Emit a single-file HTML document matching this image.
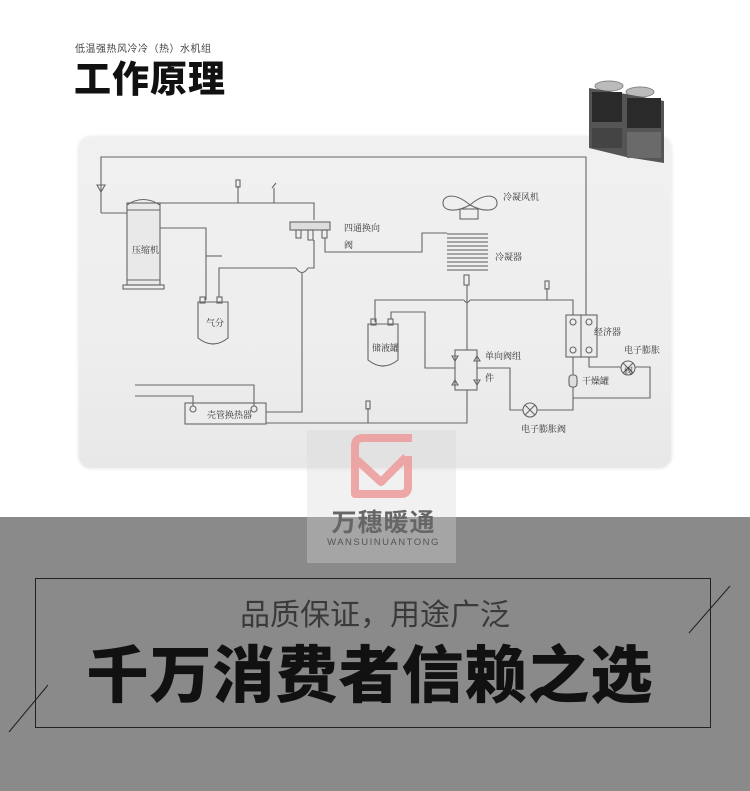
<!DOCTYPE html>
<html><head><meta charset="utf-8"><style>
html,body{margin:0;padding:0;}
body{width:750px;height:791px;position:relative;overflow:hidden;background:#fff;font-family:"Liberation Sans","Noto Sans CJK SC",sans-serif;}
.abs{position:absolute;}
</style></head><body>
<div class="abs" style="left:0;top:0;width:750px;height:517px;background:#fff"></div>
<div class="abs" style="left:0;top:517px;width:750px;height:274px;background:#8a8a8a"></div>
<div class="abs" style="left:75px;top:40px;font-size:10px;color:#444;letter-spacing:0.5px">低温强热风冷冷（热）水机组</div>
<div class="abs" style="left:74px;top:58px;font-size:37px;font-weight:900;color:#111;letter-spacing:1px;line-height:44px">工作原理</div>
<div class="abs" style="left:79px;top:137px;width:592px;height:331px;border-radius:12px;background:linear-gradient(180deg,#f0f0f0,#eeeeee 60%,#e8e8e8);box-shadow:0 0 4px #ddd"></div>

<svg class="abs" style="left:0;top:0" width="750" height="517" viewBox="0 0 750 517">
<g fill="none" stroke="#666" stroke-width="1.1">
<polyline points="101,213 101,157 586,157 586,322"/>
<polyline points="101,213 127,213"/>
<path d="M97,185 L105,185 L101,192 Z"/>
<rect x="127" y="203" width="33" height="82" fill="#e9e9e9"/>
<path d="M127,205 Q143,194 160,205"/>
<line x1="127" y1="210" x2="160" y2="210"/><line x1="127" y1="280" x2="160" y2="280"/>
<rect x="123" y="285" width="41" height="4"/>
<polyline points="160,203 314,203 314,220"/>
<line x1="238" y1="203" x2="238" y2="186"/><rect x="236" y="180" width="4" height="7"/>
<line x1="274" y1="203" x2="274" y2="188"/><path d="M272,188 L276,183"/>
<rect x="290" y="222" width="40" height="8" fill="#ddd"/>
<rect x="296" y="230" width="5" height="8"/><rect x="308" y="230" width="5" height="10"/><rect x="322" y="230" width="5" height="8"/>
<polyline points="325,238 325,252 422,252 422,233 447,233"/>
<path d="M470,205 C455,192 443,195 443,203 C443,211 455,213 470,205 C485,192 497,195 497,203 C497,211 485,213 470,205 Z"/>
<rect x="460" y="209" width="18" height="10"/>
<g stroke="#777" stroke-width="1.3">
<line x1="447" y1="234" x2="488" y2="234"/><line x1="447" y1="238" x2="488" y2="238"/><line x1="447" y1="242" x2="488" y2="242"/><line x1="447" y1="246" x2="488" y2="246"/><line x1="447" y1="250" x2="488" y2="250"/><line x1="447" y1="254" x2="488" y2="254"/><line x1="447" y1="258" x2="488" y2="258"/><line x1="447" y1="262" x2="488" y2="262"/><line x1="447" y1="266" x2="488" y2="266"/><line x1="447" y1="270" x2="488" y2="270"/>
</g>
<rect x="464" y="275" width="5" height="10"/>
<line x1="467" y1="285" x2="467" y2="350"/>
<polyline points="160,228 206,228 206,300"/>
<line x1="206" y1="256" x2="222" y2="256"/>
<path d="M198,302 L228,302 L228,338 Q213,350 198,338 Z" fill="#ececec"/>
<rect x="200" y="297" width="5" height="6"/><rect x="217" y="297" width="5" height="6"/>
<polyline points="219,297 219,268 296,268"/>
<path d="M296,268 Q302,277 308,268 L314,268 L314,240"/>
<polyline points="302,273 302,412 266,412"/>
<rect x="185" y="403" width="81" height="21" fill="#ececec"/>
<circle cx="193" cy="409" r="3"/><circle cx="254" cy="409" r="3"/>
<polyline points="135,385 254,385 254,406"/>
<polyline points="135,396 193,396 193,406"/>
<polyline points="266,423 467,423 467,390"/>
<line x1="368" y1="423" x2="368" y2="408"/><rect x="366" y="401" width="4" height="8"/>
<polyline points="375,322 375,300 464,300"/><path d="M464,300 Q467,305 470,300"/>
<polyline points="470,300 573,300 573,316"/>
<line x1="547" y1="300" x2="547" y2="288"/><rect x="545" y="281" width="4" height="8"/>
<path d="M368,324 L398,324 L398,360 Q383,372 368,360 Z" fill="#ececec"/>
<rect x="371" y="319" width="5" height="6"/><rect x="388" y="319" width="5" height="6"/>
<polyline points="391,319 391,312 425,312 425,368 455,368"/>
<rect x="455" y="350" width="22" height="40"/>
<path d="M452,356 L458,356 L455,361 Z"/><path d="M474,361 L480,361 L477,356 Z"/>
<path d="M452,385 L458,385 L455,380 Z"/><path d="M474,380 L480,380 L477,385 Z"/>
<polyline points="477,368 510,368 510,410 523,410"/>
<circle cx="530" cy="410" r="7"/><path d="M525,405 L535,415 M535,405 L525,415"/>
<polyline points="537,410 573,410 573,357"/>
<rect x="566" y="315" width="31" height="42" fill="#ececec"/><line x1="581" y1="315" x2="581" y2="357"/>
<circle cx="573" cy="322" r="3"/><circle cx="589" cy="322" r="3"/><circle cx="573" cy="350" r="3"/><circle cx="589" cy="350" r="3"/>
<rect x="569" y="375" width="8" height="12" rx="3" fill="#ddd"/>
<polyline points="589,357 589,367 621,367"/>
<circle cx="628" cy="368" r="7"/><path d="M623,363 L633,373 M633,363 L623,373"/>
<polyline points="635,367 650,367 650,398 573,398"/>
</g>
<g font-family="Liberation Sans,Noto Serif CJK SC,serif" font-size="9" fill="#333">
<text x="132" y="253">压缩机</text>
<text x="206" y="326">气分</text>
<text x="344" y="231">四通换向</text>
<text x="344" y="248">阀</text>
<text x="503" y="200">冷凝风机</text>
<text x="495" y="260">冷凝器</text>
<text x="372" y="351">储液罐</text>
<text x="485" y="359">单向阀组</text>
<text x="485" y="381">件</text>
<text x="594" y="335">经济器</text>
<text x="624" y="353">电子膨胀</text>
<text x="624" y="374">阀</text>
<text x="582" y="384">干燥罐</text>
<text x="521" y="432">电子膨胀阀</text>
<text x="207" y="418">壳管换热器</text>
</g>
<g>
<ellipse cx="609" cy="86" rx="14" ry="5" fill="#bbb" stroke="#888"/>
<ellipse cx="640" cy="92" rx="14" ry="5" fill="#bbb" stroke="#888"/>
<polygon points="589,88 626,94 664,101 664,163 626,157 589,148" fill="#555"/>
<rect x="592" y="92" width="30" height="30" fill="#2a2a2a"/>
<rect x="627" y="98" width="34" height="30" fill="#2a2a2a"/>
<rect x="592" y="128" width="30" height="20" fill="#444"/>
<rect x="627" y="132" width="34" height="26" fill="#6a6a6a"/>
</g>
</svg>

<div class="abs" style="left:307px;top:430px;width:149px;height:133px;background:rgba(215,215,215,0.35)"></div>
<svg class="abs" style="left:349px;top:432px" width="66" height="66" viewBox="0 0 66 66">
<g fill="none" stroke="#ee9f9f" stroke-width="8" stroke-linejoin="round" opacity="0.9">
<path d="M63,6 L14,6 Q6,6 6,14 L6,62 L52,62 Q59,62 59,55 L59,24"/>
<polyline points="8,28 32,50 57,25"/>
</g>
</svg>
<div class="abs" style="left:321px;top:503px;width:125px;text-align:center;font-size:25px;font-weight:bold;color:#666;letter-spacing:1px">万穗暖通</div>
<div class="abs" style="left:321px;top:537px;width:125px;text-align:center;font-size:9.5px;color:#555;letter-spacing:1.5px">WANSUINUANTONG</div>

<div class="abs" style="left:35px;top:578px;width:676px;height:150px;border:1px solid #222;box-sizing:border-box"></div>
<svg class="abs" style="left:0;top:570px" width="750" height="200"><line x1="730" y1="16" x2="689" y2="63" stroke="#222" stroke-width="1"/><line x1="48" y1="115" x2="9" y2="162" stroke="#222" stroke-width="1"/></svg>
<div class="abs" style="left:0;top:596px;width:750px;text-align:center;font-size:30px;color:#3a3a3a;line-height:40px">品质保证，用途广泛</div>
<div class="abs" style="left:0;top:641px;width:740px;text-align:center;font-size:62px;font-weight:900;color:#111;line-height:72px;letter-spacing:1px">千万消费者信赖之选</div>
</body></html>
